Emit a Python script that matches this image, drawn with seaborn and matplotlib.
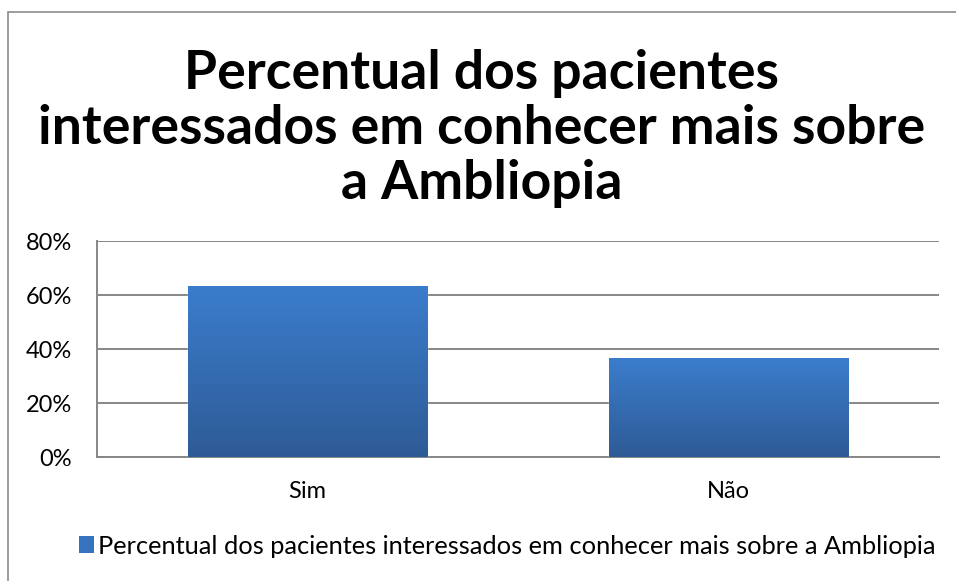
import numpy as np
import pandas as pd
import matplotlib
matplotlib.use("Agg")
import matplotlib.pyplot as plt
import matplotlib.patches as mpatches
from matplotlib.colors import LinearSegmentedColormap
from matplotlib.ticker import PercentFormatter
import seaborn as sns

# data
categorias = ["Sim", "Não"]
percentuais = [63.3, 36.7]
serie = "Percentual dos pacientes interessados em conhecer mais sobre a Ambliopia"
titulo = "Percentual dos pacientes\ninteressados em conhecer mais sobre\na Ambliopia"
y_ticks = [0, 20, 40, 60, 80]

df = pd.DataFrame({"resposta": categorias, "pct": percentuais})

sns.set_style("white")
plt.rcParams["font.family"] = ["Lato", "DejaVu Sans"]
plt.rcParams["text.color"] = "black"

fig = plt.figure(figsize=(9.56, 5.81), dpi=100)
ax = fig.add_axes([97 / 956, 1 - 457 / 581, (939 - 97) / 956, (457 - 241) / 581])

sns.barplot(data=df, x="resposta", y="pct", ax=ax, color="#3a78c6",
            width=0.57, saturation=1, zorder=3)

# vertical gradient on each bar, like the Excel fill
grad = LinearSegmentedColormap.from_list("g", ["#2e5b96", "#3b7dcc"])
for p in ax.patches:
    x0, y0 = p.get_x(), p.get_y()
    w, h = p.get_width(), p.get_height()
    im = ax.imshow(np.linspace(0, 1, 256).reshape(-1, 1), cmap=grad, aspect="auto",
                   origin="lower", extent=[x0, x0 + w, y0, y0 + h], zorder=4)
    im.set_clip_path(p)
ax.set_xlim(-0.5, 1.5)
ax.set_ylim(0, 80)
ax.set_yticks(y_ticks)
ax.yaxis.set_major_formatter(PercentFormatter(decimals=0))
ax.grid(axis="y", color="#878787", linewidth=1.4, zorder=0)
ax.set_axisbelow(True)
for s in ["top", "right"]:
    ax.spines[s].set_visible(False)
for s in ["left", "bottom"]:
    ax.spines[s].set_color("#878787")
    ax.spines[s].set_linewidth(1.4)
ax.tick_params(axis="both", length=0, labelsize=17, colors="black")
ax.tick_params(axis="y", pad=18)
ax.tick_params(axis="x", pad=17)
ax.set_xlabel("")
ax.set_ylabel("")

fig.text(482 / 956, 1 - 128 / 581, titulo, ha="center", va="center",
         fontsize=38.5, fontweight="bold", linespacing=1.15, color="black")

handle = mpatches.Patch(facecolor="#3673bf", edgecolor="none")
fig.legend([handle], [serie], loc="center", bbox_to_anchor=(507 / 956, 1 - 546 / 581),
           frameon=False, fontsize=18.3, handlelength=0.6, handleheight=0.6,
           handletextpad=0.15, labelcolor="black")

# chart area frame (only top and left edges are inside the picture)
fig.patches.append(mpatches.Rectangle((8 / 956, -0.1), 1.2, 1 - 12 / 581 + 0.1,
                                      transform=fig.transFigure, fill=False,
                                      edgecolor="#8c8c8c", linewidth=1.2))

fig.savefig("out.png", dpi=100)
